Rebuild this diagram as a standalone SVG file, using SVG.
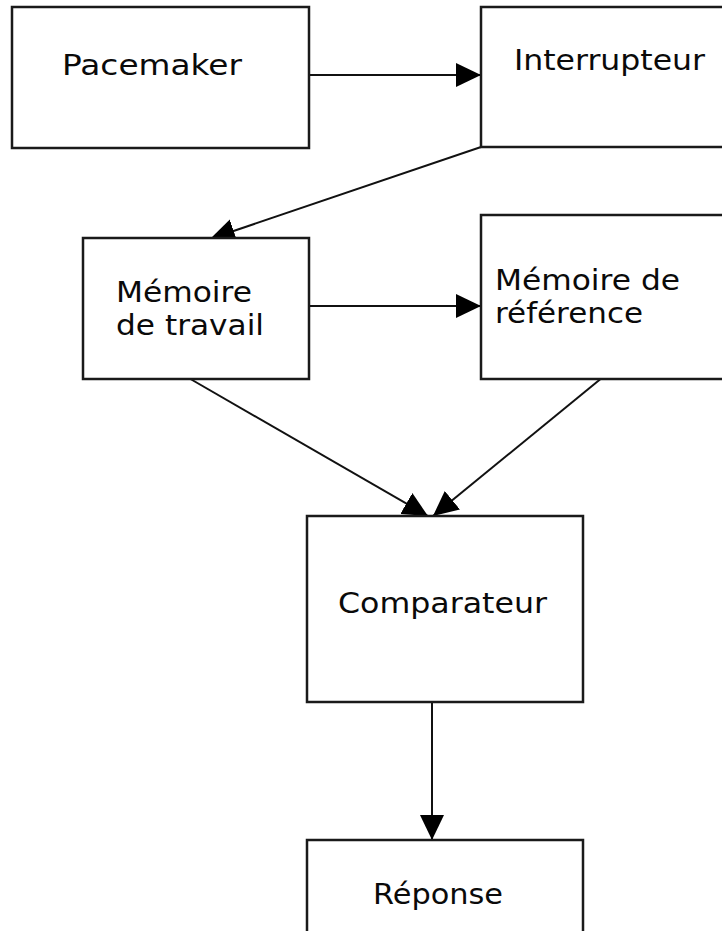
<svg xmlns="http://www.w3.org/2000/svg" width="722" height="931" viewBox="0 0 722 931">
<style>
.box{fill:#fff;stroke:#1a1a1a;stroke-width:2.5}
.lbl{font-family:"DejaVu Sans",sans-serif;font-size:29px;fill:#0a0a0a}
.con{stroke:#111;stroke-width:2;fill:none;marker-end:url(#ah)}
</style>
<defs>
<marker id="ah" markerUnits="userSpaceOnUse" markerWidth="26" markerHeight="26" refX="25" refY="12" orient="auto">
<path d="M0,0 L25,12 L0,24 z" fill="#000"/>
</marker>
</defs>
<rect width="722" height="931" fill="#fff"/>
<g id="connectors">
<line class="con" x1="307" y1="75" x2="481" y2="75"/>
<line class="con" x1="481" y1="147" x2="210" y2="239"/>
<line class="con" x1="309" y1="306" x2="481" y2="306"/>
<line class="con" x1="187" y1="377" x2="428" y2="516"/>
<line class="con" x1="603" y1="377" x2="433" y2="516"/>
<line class="con" x1="432" y1="702" x2="432" y2="840"/>
</g>
<g id="pacemaker">
<rect class="box" x="12" y="7" width="297" height="141"/>
<text class="lbl" x="62" y="75" textLength="180" lengthAdjust="spacingAndGlyphs">Pacemaker</text>
</g>
<g id="interrupteur">
<rect class="box" x="481" y="7" width="260" height="140"/>
<text class="lbl" x="514" y="70" textLength="191" lengthAdjust="spacingAndGlyphs">Interrupteur</text>
</g>
<g id="memoire-travail">
<rect class="box" x="83" y="238" width="226" height="141"/>
<text class="lbl" x="116" y="302" textLength="136" lengthAdjust="spacingAndGlyphs">Mémoire</text>
<text class="lbl" x="116" y="335" textLength="148" lengthAdjust="spacingAndGlyphs">de travail</text>
</g>
<g id="memoire-reference">
<rect class="box" x="481" y="215" width="260" height="164"/>
<text class="lbl" x="495" y="290" textLength="185" lengthAdjust="spacingAndGlyphs">Mémoire de</text>
<text class="lbl" x="495" y="323" textLength="148" lengthAdjust="spacingAndGlyphs">référence</text>
</g>
<g id="comparateur">
<rect class="box" x="307" y="516" width="276" height="186"/>
<text class="lbl" x="338" y="613" textLength="209" lengthAdjust="spacingAndGlyphs">Comparateur</text>
</g>
<g id="reponse">
<rect class="box" x="307" y="840" width="276" height="110"/>
<text class="lbl" x="373" y="904" textLength="130" lengthAdjust="spacingAndGlyphs">Réponse</text>
</g>
</svg>
